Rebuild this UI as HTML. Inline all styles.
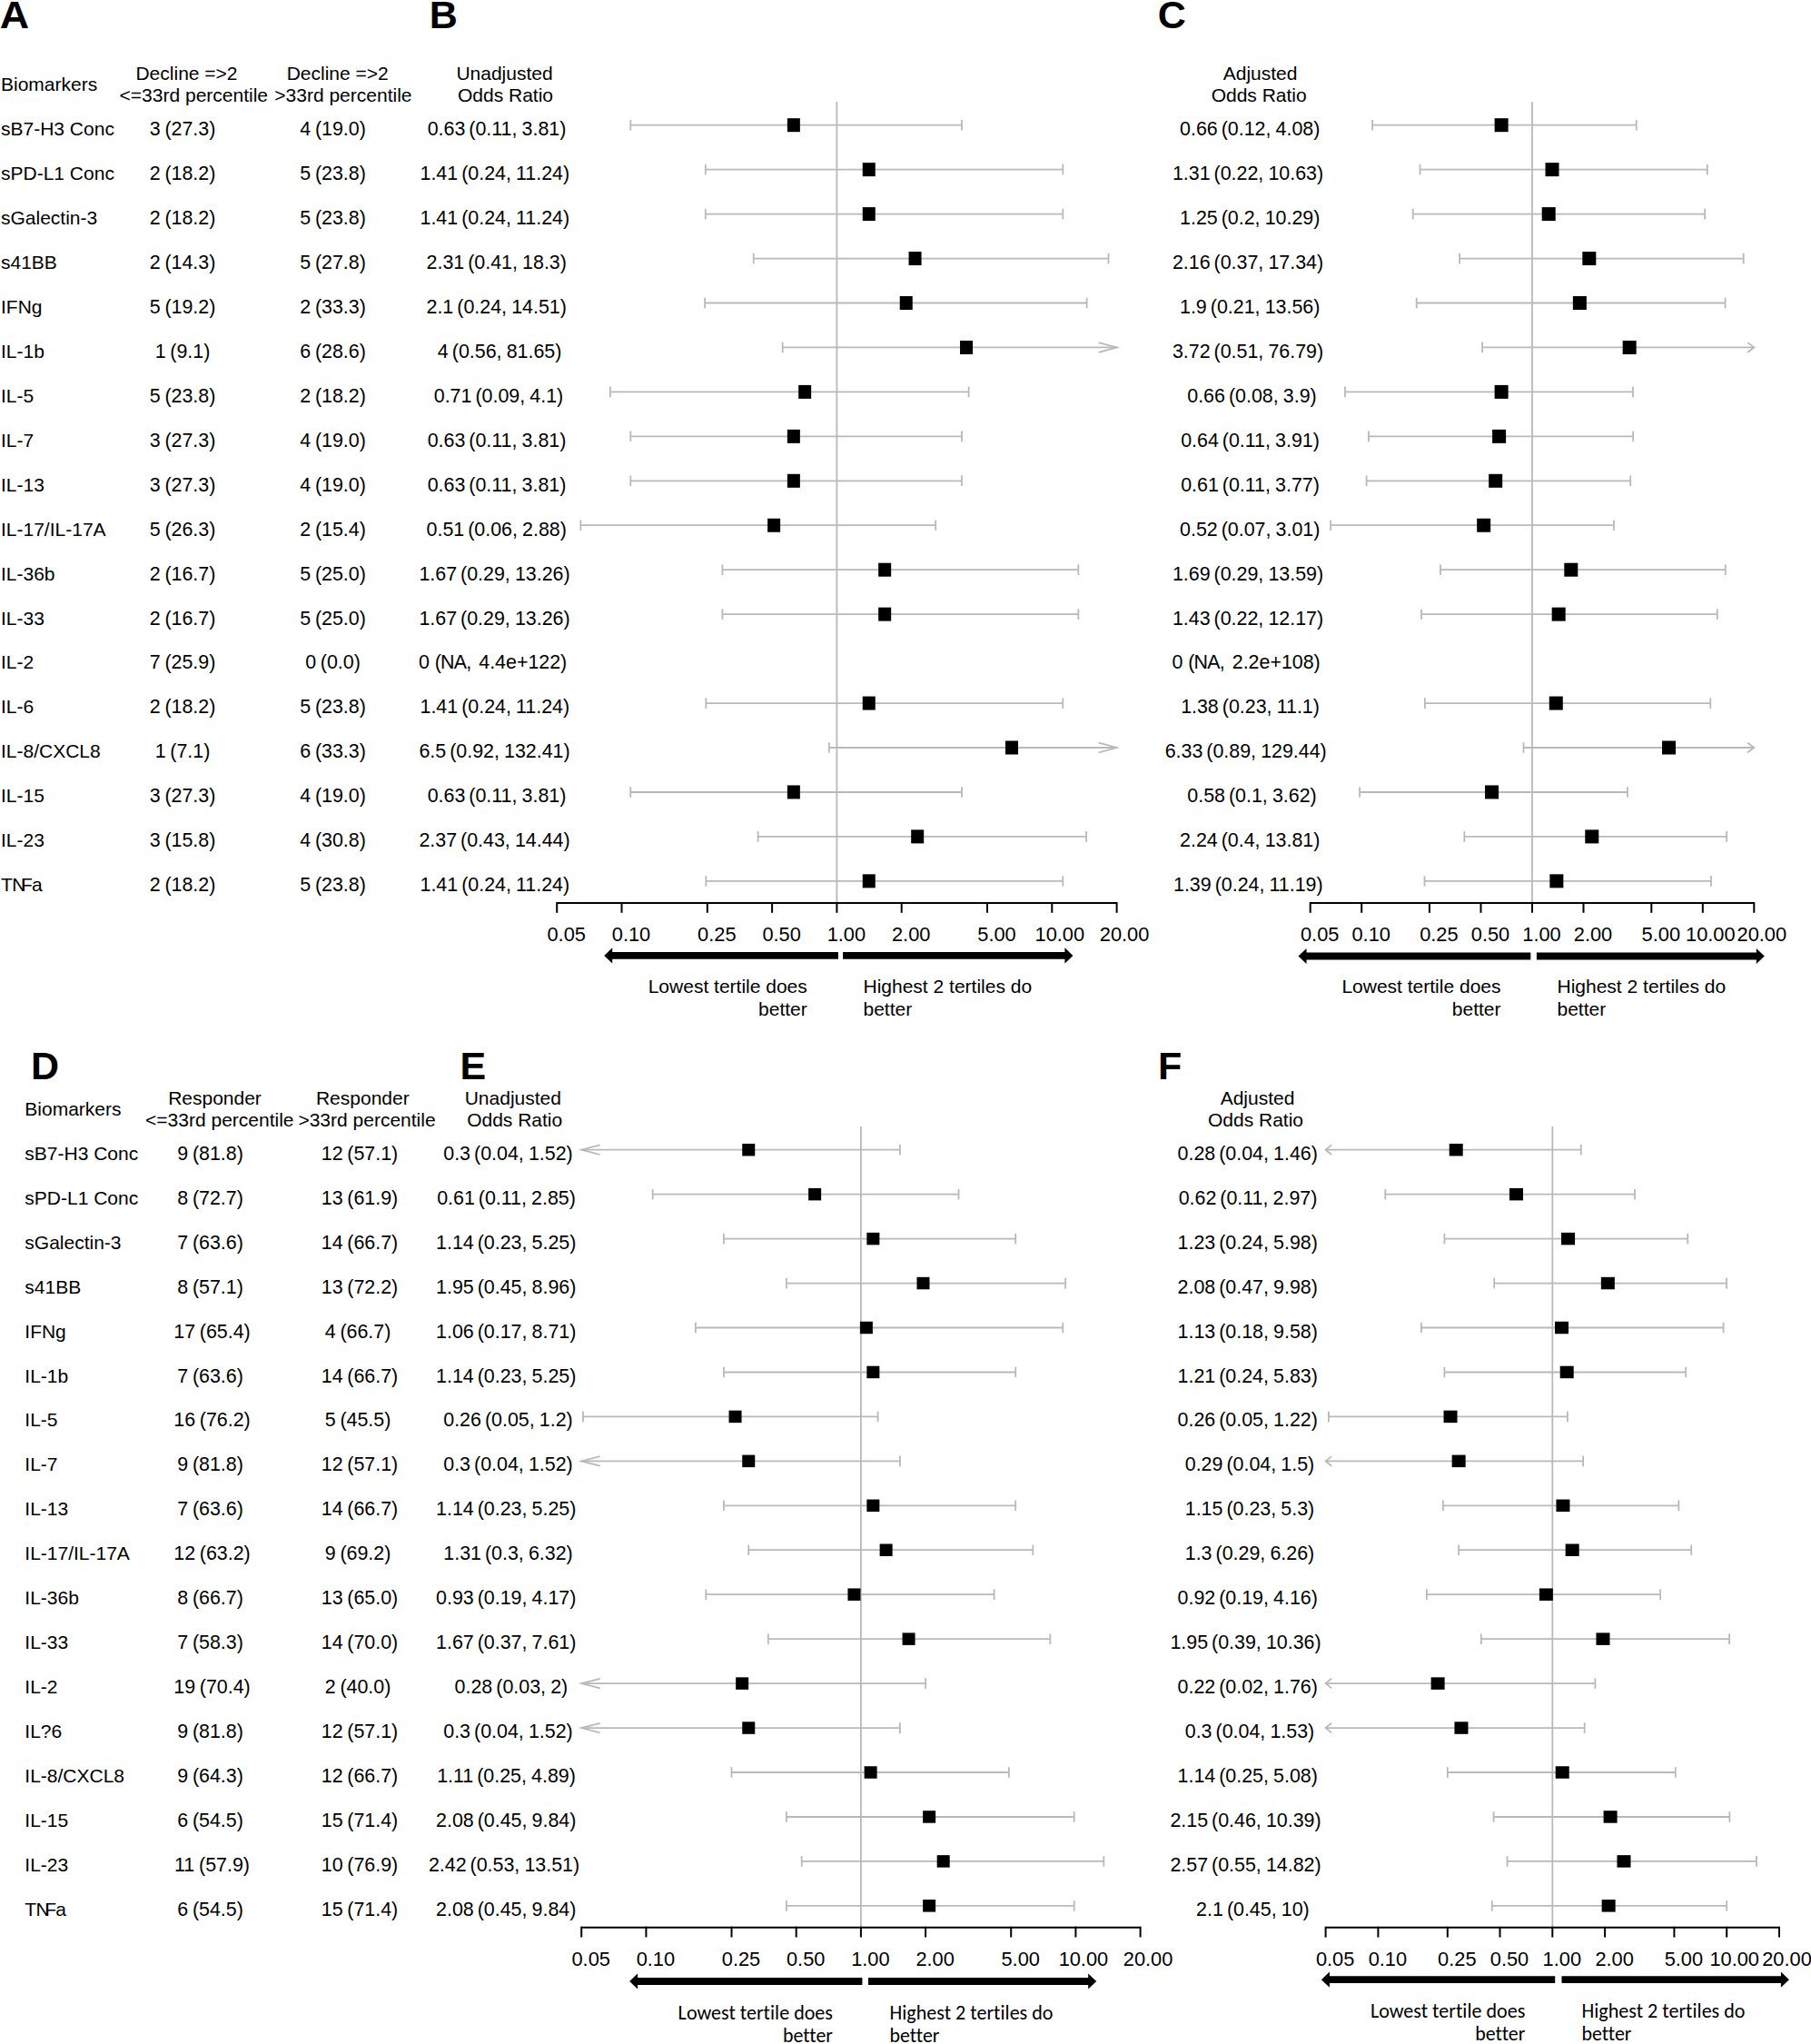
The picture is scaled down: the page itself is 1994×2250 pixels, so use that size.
<!DOCTYPE html>
<html><head><meta charset="utf-8"><title>Forest plots</title>
<style>
html,body{margin:0;padding:0;background:#fff;}
svg{display:block;}
text{fill:#000;font-variant-ligatures:none;font-feature-settings:"liga" 0,"clig" 0;}
</style></head>
<body>
<svg width="1994" height="2250" viewBox="0 0 1994 2250" font-family="Liberation Sans, Arial, sans-serif" font-size="21.0">
<rect x="0" y="0" width="1994" height="2250" fill="#fff"/>
<text x="-0.2" y="30.9" font-weight="bold" font-size="43" textLength="32.4" lengthAdjust="spacingAndGlyphs">A</text>
<text x="472.7" y="30.9" font-weight="bold" font-size="43">B</text>
<text x="1274.7" y="30.9" font-weight="bold" font-size="43">C</text>
<text x="1.0" y="99.9">Biomarkers</text>
<text x="205.5" y="87.8" text-anchor="middle">Decline =&gt;2</text>
<text x="213.3" y="112.4" text-anchor="middle">&lt;=33rd percentile</text>
<text x="371.7" y="87.8" text-anchor="middle">Decline =&gt;2</text>
<text x="377.9" y="112.4" text-anchor="middle">&gt;33rd percentile</text>
<text x="555.5" y="87.8" text-anchor="middle">Unadjusted</text>
<text x="556.5" y="112.4" text-anchor="middle">Odds Ratio</text>
<text x="1387.6" y="87.8" text-anchor="middle">Adjusted</text>
<text x="1386.2" y="112.4" text-anchor="middle">Odds Ratio</text>
<text x="1.0" y="149.0">sB7-H3 Conc</text>
<text x="201.0" y="149.0" text-anchor="middle" font-size="21.4">3<tspan dx="-1.2"> (27.3)</tspan></text>
<text x="366.5" y="149.0" text-anchor="middle" font-size="21.4">4<tspan dx="-1.2"> (19.0)</tspan></text>
<text x="547.0" y="149.0" text-anchor="middle" font-size="21.4">0.63<tspan dx="-1.9"> (0.11,</tspan><tspan dx="-0.8"> 3.81)</tspan></text>
<text x="1376.2" y="149.0" text-anchor="middle" font-size="21.4">0.66<tspan dx="-1.9"> (0.12,</tspan><tspan dx="-0.8"> 4.08)</tspan></text>
<text x="1.0" y="197.9">sPD-L1 Conc</text>
<text x="201.0" y="197.9" text-anchor="middle" font-size="21.4">2<tspan dx="-1.2"> (18.2)</tspan></text>
<text x="366.5" y="197.9" text-anchor="middle" font-size="21.4">5<tspan dx="-1.2"> (23.8)</tspan></text>
<text x="544.8" y="197.9" text-anchor="middle" font-size="21.4">1.41<tspan dx="-1.9"> (0.24,</tspan><tspan dx="-0.8"> 11.24)</tspan></text>
<text x="1374.0" y="197.9" text-anchor="middle" font-size="21.4">1.31<tspan dx="-1.9"> (0.22,</tspan><tspan dx="-0.8"> 10.63)</tspan></text>
<text x="1.0" y="246.9">sGalectin-3</text>
<text x="201.0" y="246.9" text-anchor="middle" font-size="21.4">2<tspan dx="-1.2"> (18.2)</tspan></text>
<text x="366.5" y="246.9" text-anchor="middle" font-size="21.4">5<tspan dx="-1.2"> (23.8)</tspan></text>
<text x="544.8" y="246.9" text-anchor="middle" font-size="21.4">1.41<tspan dx="-1.9"> (0.24,</tspan><tspan dx="-0.8"> 11.24)</tspan></text>
<text x="1376.2" y="246.9" text-anchor="middle" font-size="21.4">1.25<tspan dx="-1.9"> (0.2,</tspan><tspan dx="-0.8"> 10.29)</tspan></text>
<text x="1.0" y="295.9">s41BB</text>
<text x="201.0" y="295.9" text-anchor="middle" font-size="21.4">2<tspan dx="-1.2"> (14.3)</tspan></text>
<text x="366.5" y="295.9" text-anchor="middle" font-size="21.4">5<tspan dx="-1.2"> (27.8)</tspan></text>
<text x="546.7" y="295.9" text-anchor="middle" font-size="21.4">2.31<tspan dx="-1.9"> (0.41,</tspan><tspan dx="-0.8"> 18.3)</tspan></text>
<text x="1374.0" y="295.9" text-anchor="middle" font-size="21.4">2.16<tspan dx="-1.9"> (0.37,</tspan><tspan dx="-0.8"> 17.34)</tspan></text>
<text x="1.0" y="344.8">IFNg</text>
<text x="201.0" y="344.8" text-anchor="middle" font-size="21.4">5<tspan dx="-1.2"> (19.2)</tspan></text>
<text x="366.5" y="344.8" text-anchor="middle" font-size="21.4">2<tspan dx="-1.2"> (33.3)</tspan></text>
<text x="546.7" y="344.8" text-anchor="middle" font-size="21.4">2.1<tspan dx="-1.9"> (0.24,</tspan><tspan dx="-0.8"> 14.51)</tspan></text>
<text x="1376.2" y="344.8" text-anchor="middle" font-size="21.4">1.9<tspan dx="-1.9"> (0.21,</tspan><tspan dx="-0.8"> 13.56)</tspan></text>
<text x="1.0" y="393.8">IL-1b</text>
<text x="201.0" y="393.8" text-anchor="middle" font-size="21.4">1<tspan dx="-1.2"> (9.1)</tspan></text>
<text x="366.5" y="393.8" text-anchor="middle" font-size="21.4">6<tspan dx="-1.2"> (28.6)</tspan></text>
<text x="550.1" y="393.8" text-anchor="middle" font-size="21.4">4<tspan dx="-1.9"> (0.56,</tspan><tspan dx="-0.8"> 81.65)</tspan></text>
<text x="1374.0" y="393.8" text-anchor="middle" font-size="21.4">3.72<tspan dx="-1.9"> (0.51,</tspan><tspan dx="-0.8"> 76.79)</tspan></text>
<text x="1.0" y="442.7">IL-5</text>
<text x="201.0" y="442.7" text-anchor="middle" font-size="21.4">5<tspan dx="-1.2"> (23.8)</tspan></text>
<text x="366.5" y="442.7" text-anchor="middle" font-size="21.4">2<tspan dx="-1.2"> (18.2)</tspan></text>
<text x="549.0" y="442.7" text-anchor="middle" font-size="21.4">0.71<tspan dx="-1.9"> (0.09,</tspan><tspan dx="-0.8"> 4.1)</tspan></text>
<text x="1378.5" y="442.7" text-anchor="middle" font-size="21.4">0.66<tspan dx="-1.9"> (0.08,</tspan><tspan dx="-0.8"> 3.9)</tspan></text>
<text x="1.0" y="491.7">IL-7</text>
<text x="201.0" y="491.7" text-anchor="middle" font-size="21.4">3<tspan dx="-1.2"> (27.3)</tspan></text>
<text x="366.5" y="491.7" text-anchor="middle" font-size="21.4">4<tspan dx="-1.2"> (19.0)</tspan></text>
<text x="547.0" y="491.7" text-anchor="middle" font-size="21.4">0.63<tspan dx="-1.9"> (0.11,</tspan><tspan dx="-0.8"> 3.81)</tspan></text>
<text x="1376.5" y="491.7" text-anchor="middle" font-size="21.4">0.64<tspan dx="-1.9"> (0.11,</tspan><tspan dx="-0.8"> 3.91)</tspan></text>
<text x="1.0" y="540.6">IL-13</text>
<text x="201.0" y="540.6" text-anchor="middle" font-size="21.4">3<tspan dx="-1.2"> (27.3)</tspan></text>
<text x="366.5" y="540.6" text-anchor="middle" font-size="21.4">4<tspan dx="-1.2"> (19.0)</tspan></text>
<text x="547.0" y="540.6" text-anchor="middle" font-size="21.4">0.63<tspan dx="-1.9"> (0.11,</tspan><tspan dx="-0.8"> 3.81)</tspan></text>
<text x="1376.5" y="540.6" text-anchor="middle" font-size="21.4">0.61<tspan dx="-1.9"> (0.11,</tspan><tspan dx="-0.8"> 3.77)</tspan></text>
<text x="1.0" y="589.5">IL-17/IL-17A</text>
<text x="201.0" y="589.5" text-anchor="middle" font-size="21.4">5<tspan dx="-1.2"> (26.3)</tspan></text>
<text x="366.5" y="589.5" text-anchor="middle" font-size="21.4">2<tspan dx="-1.2"> (15.4)</tspan></text>
<text x="546.7" y="589.5" text-anchor="middle" font-size="21.4">0.51<tspan dx="-1.9"> (0.06,</tspan><tspan dx="-0.8"> 2.88)</tspan></text>
<text x="1376.2" y="589.5" text-anchor="middle" font-size="21.4">0.52<tspan dx="-1.9"> (0.07,</tspan><tspan dx="-0.8"> 3.01)</tspan></text>
<text x="1.0" y="638.5">IL-36b</text>
<text x="201.0" y="638.5" text-anchor="middle" font-size="21.4">2<tspan dx="-1.2"> (16.7)</tspan></text>
<text x="366.5" y="638.5" text-anchor="middle" font-size="21.4">5<tspan dx="-1.2"> (25.0)</tspan></text>
<text x="544.5" y="638.5" text-anchor="middle" font-size="21.4">1.67<tspan dx="-1.9"> (0.29,</tspan><tspan dx="-0.8"> 13.26)</tspan></text>
<text x="1374.0" y="638.5" text-anchor="middle" font-size="21.4">1.69<tspan dx="-1.9"> (0.29,</tspan><tspan dx="-0.8"> 13.59)</tspan></text>
<text x="1.0" y="687.5">IL-33</text>
<text x="201.0" y="687.5" text-anchor="middle" font-size="21.4">2<tspan dx="-1.2"> (16.7)</tspan></text>
<text x="366.5" y="687.5" text-anchor="middle" font-size="21.4">5<tspan dx="-1.2"> (25.0)</tspan></text>
<text x="544.5" y="687.5" text-anchor="middle" font-size="21.4">1.67<tspan dx="-1.9"> (0.29,</tspan><tspan dx="-0.8"> 13.26)</tspan></text>
<text x="1374.0" y="687.5" text-anchor="middle" font-size="21.4">1.43<tspan dx="-1.9"> (0.22,</tspan><tspan dx="-0.8"> 12.17)</tspan></text>
<text x="1.0" y="736.4">IL-2</text>
<text x="201.0" y="736.4" text-anchor="middle" font-size="21.4">7<tspan dx="-1.2"> (25.9)</tspan></text>
<text x="366.5" y="736.4" text-anchor="middle" font-size="21.4">0<tspan dx="-1.2"> (0.0)</tspan></text>
<text x="542.6" y="736.4" text-anchor="middle" font-size="21.4">0 <tspan letter-spacing="-0.8">(NA,</tspan><tspan dx="-3">  4.4e+122)</tspan></text>
<text x="1372.1" y="736.4" text-anchor="middle" font-size="21.4">0 <tspan letter-spacing="-0.8">(NA,</tspan><tspan dx="-3">  2.2e+108)</tspan></text>
<text x="1.0" y="785.4">IL-6</text>
<text x="201.0" y="785.4" text-anchor="middle" font-size="21.4">2<tspan dx="-1.2"> (18.2)</tspan></text>
<text x="366.5" y="785.4" text-anchor="middle" font-size="21.4">5<tspan dx="-1.2"> (23.8)</tspan></text>
<text x="544.8" y="785.4" text-anchor="middle" font-size="21.4">1.41<tspan dx="-1.9"> (0.24,</tspan><tspan dx="-0.8"> 11.24)</tspan></text>
<text x="1376.5" y="785.4" text-anchor="middle" font-size="21.4">1.38<tspan dx="-1.9"> (0.23,</tspan><tspan dx="-0.8"> 11.1)</tspan></text>
<text x="1.0" y="834.3">IL-8/CXCL8</text>
<text x="201.0" y="834.3" text-anchor="middle" font-size="21.4">1<tspan dx="-1.2"> (7.1)</tspan></text>
<text x="366.5" y="834.3" text-anchor="middle" font-size="21.4">6<tspan dx="-1.2"> (33.3)</tspan></text>
<text x="544.5" y="834.3" text-anchor="middle" font-size="21.4">6.5<tspan dx="-1.9"> (0.92,</tspan><tspan dx="-0.8"> 132.41)</tspan></text>
<text x="1371.7" y="834.3" text-anchor="middle" font-size="21.4">6.33<tspan dx="-1.9"> (0.89,</tspan><tspan dx="-0.8"> 129.44)</tspan></text>
<text x="1.0" y="883.2">IL-15</text>
<text x="201.0" y="883.2" text-anchor="middle" font-size="21.4">3<tspan dx="-1.2"> (27.3)</tspan></text>
<text x="366.5" y="883.2" text-anchor="middle" font-size="21.4">4<tspan dx="-1.2"> (19.0)</tspan></text>
<text x="547.0" y="883.2" text-anchor="middle" font-size="21.4">0.63<tspan dx="-1.9"> (0.11,</tspan><tspan dx="-0.8"> 3.81)</tspan></text>
<text x="1378.5" y="883.2" text-anchor="middle" font-size="21.4">0.58<tspan dx="-1.9"> (0.1,</tspan><tspan dx="-0.8"> 3.62)</tspan></text>
<text x="1.0" y="932.2">IL-23</text>
<text x="201.0" y="932.2" text-anchor="middle" font-size="21.4">3<tspan dx="-1.2"> (15.8)</tspan></text>
<text x="366.5" y="932.2" text-anchor="middle" font-size="21.4">4<tspan dx="-1.2"> (30.8)</tspan></text>
<text x="544.5" y="932.2" text-anchor="middle" font-size="21.4">2.37<tspan dx="-1.9"> (0.43,</tspan><tspan dx="-0.8"> 14.44)</tspan></text>
<text x="1376.2" y="932.2" text-anchor="middle" font-size="21.4">2.24<tspan dx="-1.9"> (0.4,</tspan><tspan dx="-0.8"> 13.81)</tspan></text>
<text x="1.0" y="981.2">T<tspan dx="-0.6">N</tspan><tspan dx="-5.4">F</tspan><tspan dx="-0.9">a</tspan></text>
<text x="201.0" y="981.2" text-anchor="middle" font-size="21.4">2<tspan dx="-1.2"> (18.2)</tspan></text>
<text x="366.5" y="981.2" text-anchor="middle" font-size="21.4">5<tspan dx="-1.2"> (23.8)</tspan></text>
<text x="544.8" y="981.2" text-anchor="middle" font-size="21.4">1.41<tspan dx="-1.9"> (0.24,</tspan><tspan dx="-0.8"> 11.24)</tspan></text>
<text x="1374.3" y="981.2" text-anchor="middle" font-size="21.4">1.39<tspan dx="-1.9"> (0.24,</tspan><tspan dx="-0.8"> 11.19)</tspan></text>
<line x1="921.4" y1="112.0" x2="921.4" y2="994.0" stroke="#b9b9b9" stroke-width="1.8"/>
<line x1="694.3" y1="137.7" x2="1059.0" y2="137.7" stroke="#b9b9b9" stroke-width="1.8"/>
<line x1="694.3" y1="131.9" x2="694.3" y2="143.5" stroke="#b9b9b9" stroke-width="1.8"/>
<line x1="1059.0" y1="131.9" x2="1059.0" y2="143.5" stroke="#b9b9b9" stroke-width="1.8"/>
<rect x="866.86" y="130.20" width="14" height="15" fill="#000"/>
<line x1="776.8" y1="186.6" x2="1170.3" y2="186.6" stroke="#b9b9b9" stroke-width="1.8"/>
<line x1="776.8" y1="180.8" x2="776.8" y2="192.4" stroke="#b9b9b9" stroke-width="1.8"/>
<line x1="1170.3" y1="180.8" x2="1170.3" y2="192.4" stroke="#b9b9b9" stroke-width="1.8"/>
<rect x="949.75" y="179.15" width="14" height="15" fill="#000"/>
<line x1="776.8" y1="235.6" x2="1170.3" y2="235.6" stroke="#b9b9b9" stroke-width="1.8"/>
<line x1="776.8" y1="229.8" x2="776.8" y2="241.4" stroke="#b9b9b9" stroke-width="1.8"/>
<line x1="1170.3" y1="229.8" x2="1170.3" y2="241.4" stroke="#b9b9b9" stroke-width="1.8"/>
<rect x="949.75" y="228.10" width="14" height="15" fill="#000"/>
<line x1="829.7" y1="284.6" x2="1220.5" y2="284.6" stroke="#b9b9b9" stroke-width="1.8"/>
<line x1="829.7" y1="278.8" x2="829.7" y2="290.4" stroke="#b9b9b9" stroke-width="1.8"/>
<line x1="1220.5" y1="278.8" x2="1220.5" y2="290.4" stroke="#b9b9b9" stroke-width="1.8"/>
<rect x="1000.54" y="277.05" width="14" height="15" fill="#000"/>
<line x1="776.1" y1="333.5" x2="1196.6" y2="333.5" stroke="#b9b9b9" stroke-width="1.8"/>
<line x1="776.1" y1="327.7" x2="776.1" y2="339.3" stroke="#b9b9b9" stroke-width="1.8"/>
<line x1="1196.6" y1="327.7" x2="1196.6" y2="339.3" stroke="#b9b9b9" stroke-width="1.8"/>
<rect x="990.73" y="326.00" width="14" height="15" fill="#000"/>
<line x1="861.7" y1="382.4" x2="1229.7" y2="382.4" stroke="#b9b9b9" stroke-width="1.8"/>
<line x1="861.7" y1="376.6" x2="861.7" y2="388.2" stroke="#b9b9b9" stroke-width="1.8"/>
<polyline points="1209.7,377.1 1229.7,382.4 1209.7,387.8" fill="none" stroke="#b9b9b9" stroke-width="1.8"/>
<rect x="1057.03" y="374.95" width="14" height="15" fill="#000"/>
<line x1="671.9" y1="431.4" x2="1066.6" y2="431.4" stroke="#b9b9b9" stroke-width="1.8"/>
<line x1="671.9" y1="425.6" x2="671.9" y2="437.2" stroke="#b9b9b9" stroke-width="1.8"/>
<line x1="1066.6" y1="425.6" x2="1066.6" y2="437.2" stroke="#b9b9b9" stroke-width="1.8"/>
<rect x="879.16" y="423.90" width="14" height="15" fill="#000"/>
<line x1="694.3" y1="480.4" x2="1059.0" y2="480.4" stroke="#b9b9b9" stroke-width="1.8"/>
<line x1="694.3" y1="474.6" x2="694.3" y2="486.2" stroke="#b9b9b9" stroke-width="1.8"/>
<line x1="1059.0" y1="474.6" x2="1059.0" y2="486.2" stroke="#b9b9b9" stroke-width="1.8"/>
<rect x="866.86" y="472.85" width="14" height="15" fill="#000"/>
<line x1="694.3" y1="529.3" x2="1059.0" y2="529.3" stroke="#b9b9b9" stroke-width="1.8"/>
<line x1="694.3" y1="523.5" x2="694.3" y2="535.1" stroke="#b9b9b9" stroke-width="1.8"/>
<line x1="1059.0" y1="523.5" x2="1059.0" y2="535.1" stroke="#b9b9b9" stroke-width="1.8"/>
<rect x="866.86" y="521.80" width="14" height="15" fill="#000"/>
<line x1="639.3" y1="578.2" x2="1030.2" y2="578.2" stroke="#b9b9b9" stroke-width="1.8"/>
<line x1="639.3" y1="572.5" x2="639.3" y2="584.0" stroke="#b9b9b9" stroke-width="1.8"/>
<line x1="1030.2" y1="572.5" x2="1030.2" y2="584.0" stroke="#b9b9b9" stroke-width="1.8"/>
<rect x="845.12" y="570.75" width="14" height="15" fill="#000"/>
<line x1="795.4" y1="627.2" x2="1187.3" y2="627.2" stroke="#b9b9b9" stroke-width="1.8"/>
<line x1="795.4" y1="621.4" x2="795.4" y2="633.0" stroke="#b9b9b9" stroke-width="1.8"/>
<line x1="1187.3" y1="621.4" x2="1187.3" y2="633.0" stroke="#b9b9b9" stroke-width="1.8"/>
<rect x="967.16" y="619.70" width="14" height="15" fill="#000"/>
<line x1="795.4" y1="676.2" x2="1187.3" y2="676.2" stroke="#b9b9b9" stroke-width="1.8"/>
<line x1="795.4" y1="670.4" x2="795.4" y2="682.0" stroke="#b9b9b9" stroke-width="1.8"/>
<line x1="1187.3" y1="670.4" x2="1187.3" y2="682.0" stroke="#b9b9b9" stroke-width="1.8"/>
<rect x="967.16" y="668.65" width="14" height="15" fill="#000"/>
<line x1="777.3" y1="774.1" x2="1170.3" y2="774.1" stroke="#b9b9b9" stroke-width="1.8"/>
<line x1="777.3" y1="768.3" x2="777.3" y2="779.9" stroke="#b9b9b9" stroke-width="1.8"/>
<line x1="1170.3" y1="768.3" x2="1170.3" y2="779.9" stroke="#b9b9b9" stroke-width="1.8"/>
<rect x="949.75" y="766.55" width="14" height="15" fill="#000"/>
<line x1="912.8" y1="823.0" x2="1229.7" y2="823.0" stroke="#b9b9b9" stroke-width="1.8"/>
<line x1="912.8" y1="817.2" x2="912.8" y2="828.8" stroke="#b9b9b9" stroke-width="1.8"/>
<polyline points="1209.7,817.7 1229.7,823.0 1209.7,828.3" fill="none" stroke="#b9b9b9" stroke-width="1.8"/>
<rect x="1106.98" y="815.50" width="14" height="15" fill="#000"/>
<line x1="694.3" y1="872.0" x2="1059.0" y2="872.0" stroke="#b9b9b9" stroke-width="1.8"/>
<line x1="694.3" y1="866.2" x2="694.3" y2="877.8" stroke="#b9b9b9" stroke-width="1.8"/>
<line x1="1059.0" y1="866.2" x2="1059.0" y2="877.8" stroke="#b9b9b9" stroke-width="1.8"/>
<rect x="866.86" y="864.45" width="14" height="15" fill="#000"/>
<line x1="834.6" y1="920.9" x2="1196.1" y2="920.9" stroke="#b9b9b9" stroke-width="1.8"/>
<line x1="834.6" y1="915.1" x2="834.6" y2="926.7" stroke="#b9b9b9" stroke-width="1.8"/>
<line x1="1196.1" y1="915.1" x2="1196.1" y2="926.7" stroke="#b9b9b9" stroke-width="1.8"/>
<rect x="1003.18" y="913.40" width="14" height="15" fill="#000"/>
<line x1="777.3" y1="969.9" x2="1170.3" y2="969.9" stroke="#b9b9b9" stroke-width="1.8"/>
<line x1="777.3" y1="964.1" x2="777.3" y2="975.7" stroke="#b9b9b9" stroke-width="1.8"/>
<line x1="1170.3" y1="964.1" x2="1170.3" y2="975.7" stroke="#b9b9b9" stroke-width="1.8"/>
<rect x="949.75" y="962.35" width="14" height="15" fill="#000"/>
<line x1="613.2" y1="994.0" x2="1229.7" y2="994.0" stroke="#000" stroke-width="2"/>
<line x1="613.2" y1="993.0" x2="613.2" y2="1004.8" stroke="#000" stroke-width="2"/>
<text x="623.7" y="1036.2" text-anchor="middle" font-size="21.8">0.05</text>
<line x1="684.5" y1="993.0" x2="684.5" y2="1004.8" stroke="#000" stroke-width="2"/>
<text x="695.0" y="1036.2" text-anchor="middle" font-size="21.8">0.10</text>
<line x1="778.8" y1="993.0" x2="778.8" y2="1004.8" stroke="#000" stroke-width="2"/>
<text x="789.3" y="1036.2" text-anchor="middle" font-size="21.8">0.25</text>
<line x1="850.1" y1="993.0" x2="850.1" y2="1004.8" stroke="#000" stroke-width="2"/>
<text x="860.6" y="1036.2" text-anchor="middle" font-size="21.8">0.50</text>
<line x1="921.4" y1="993.0" x2="921.4" y2="1004.8" stroke="#000" stroke-width="2"/>
<text x="931.9" y="1036.2" text-anchor="middle" font-size="21.8">1.00</text>
<line x1="992.7" y1="993.0" x2="992.7" y2="1004.8" stroke="#000" stroke-width="2"/>
<text x="1003.2" y="1036.2" text-anchor="middle" font-size="21.8">2.00</text>
<line x1="1087.0" y1="993.0" x2="1087.0" y2="1004.8" stroke="#000" stroke-width="2"/>
<text x="1097.5" y="1036.2" text-anchor="middle" font-size="21.8">5.00</text>
<line x1="1158.3" y1="993.0" x2="1158.3" y2="1004.8" stroke="#000" stroke-width="2"/>
<text x="1166.8" y="1036.2" text-anchor="middle" font-size="21.8">10.00</text>
<line x1="1229.6" y1="993.0" x2="1229.6" y2="1004.8" stroke="#000" stroke-width="2"/>
<text x="1238.1" y="1036.2" text-anchor="middle" font-size="21.8">20.00</text>
<path d="M665.2,1051.9 L674.2,1043.3 L674.2,1048.0 L922.9,1048.0 L922.9,1055.8 L674.2,1055.8 L674.2,1060.5 Z" fill="#000"/>
<path d="M1181.4,1051.9 L1172.4,1043.3 L1172.4,1048.0 L928.1,1048.0 L928.1,1055.8 L1172.4,1055.8 L1172.4,1060.5 Z" fill="#000"/>
<text x="888.8" y="1093.4" text-anchor="end">Lowest tertile does</text>
<text x="888.8" y="1118.2" text-anchor="end">better</text>
<text x="950.5" y="1093.4">Highest 2 tertiles do</text>
<text x="950.5" y="1118.2">better</text>
<line x1="1687.0" y1="112.0" x2="1687.0" y2="994.0" stroke="#b9b9b9" stroke-width="1.8"/>
<line x1="1511.1" y1="137.7" x2="1801.7" y2="137.7" stroke="#b9b9b9" stroke-width="1.8"/>
<line x1="1511.1" y1="131.9" x2="1511.1" y2="143.5" stroke="#b9b9b9" stroke-width="1.8"/>
<line x1="1801.7" y1="131.9" x2="1801.7" y2="143.5" stroke="#b9b9b9" stroke-width="1.8"/>
<rect x="1645.61" y="130.20" width="15" height="15" fill="#000"/>
<line x1="1563.5" y1="186.6" x2="1879.8" y2="186.6" stroke="#b9b9b9" stroke-width="1.8"/>
<line x1="1563.5" y1="180.8" x2="1563.5" y2="192.4" stroke="#b9b9b9" stroke-width="1.8"/>
<line x1="1879.8" y1="180.8" x2="1879.8" y2="192.4" stroke="#b9b9b9" stroke-width="1.8"/>
<rect x="1701.52" y="179.15" width="15" height="15" fill="#000"/>
<line x1="1555.7" y1="235.6" x2="1877.1" y2="235.6" stroke="#b9b9b9" stroke-width="1.8"/>
<line x1="1555.7" y1="229.8" x2="1555.7" y2="241.4" stroke="#b9b9b9" stroke-width="1.8"/>
<line x1="1877.1" y1="229.8" x2="1877.1" y2="241.4" stroke="#b9b9b9" stroke-width="1.8"/>
<rect x="1697.70" y="228.10" width="15" height="15" fill="#000"/>
<line x1="1607.1" y1="284.6" x2="1919.7" y2="284.6" stroke="#b9b9b9" stroke-width="1.8"/>
<line x1="1607.1" y1="278.8" x2="1607.1" y2="290.4" stroke="#b9b9b9" stroke-width="1.8"/>
<line x1="1919.7" y1="278.8" x2="1919.7" y2="290.4" stroke="#b9b9b9" stroke-width="1.8"/>
<rect x="1742.31" y="277.05" width="15" height="15" fill="#000"/>
<line x1="1559.7" y1="333.5" x2="1899.6" y2="333.5" stroke="#b9b9b9" stroke-width="1.8"/>
<line x1="1559.7" y1="327.7" x2="1559.7" y2="339.3" stroke="#b9b9b9" stroke-width="1.8"/>
<line x1="1899.6" y1="327.7" x2="1899.6" y2="339.3" stroke="#b9b9b9" stroke-width="1.8"/>
<rect x="1731.85" y="326.00" width="15" height="15" fill="#000"/>
<line x1="1632.1" y1="382.4" x2="1931.3" y2="382.4" stroke="#b9b9b9" stroke-width="1.8"/>
<line x1="1632.1" y1="376.6" x2="1632.1" y2="388.2" stroke="#b9b9b9" stroke-width="1.8"/>
<polyline points="1924.3,377.1 1931.3,382.4 1924.3,387.8" fill="none" stroke="#b9b9b9" stroke-width="1.8"/>
<rect x="1786.65" y="374.95" width="15" height="15" fill="#000"/>
<line x1="1481.0" y1="431.4" x2="1798.0" y2="431.4" stroke="#b9b9b9" stroke-width="1.8"/>
<line x1="1481.0" y1="425.6" x2="1481.0" y2="437.2" stroke="#b9b9b9" stroke-width="1.8"/>
<line x1="1798.0" y1="425.6" x2="1798.0" y2="437.2" stroke="#b9b9b9" stroke-width="1.8"/>
<rect x="1645.61" y="423.90" width="15" height="15" fill="#000"/>
<line x1="1507.0" y1="480.4" x2="1798.2" y2="480.4" stroke="#b9b9b9" stroke-width="1.8"/>
<line x1="1507.0" y1="474.6" x2="1507.0" y2="486.2" stroke="#b9b9b9" stroke-width="1.8"/>
<line x1="1798.2" y1="474.6" x2="1798.2" y2="486.2" stroke="#b9b9b9" stroke-width="1.8"/>
<rect x="1643.10" y="472.85" width="15" height="15" fill="#000"/>
<line x1="1504.6" y1="529.3" x2="1795.2" y2="529.3" stroke="#b9b9b9" stroke-width="1.8"/>
<line x1="1504.6" y1="523.5" x2="1504.6" y2="535.1" stroke="#b9b9b9" stroke-width="1.8"/>
<line x1="1795.2" y1="523.5" x2="1795.2" y2="535.1" stroke="#b9b9b9" stroke-width="1.8"/>
<rect x="1639.18" y="521.80" width="15" height="15" fill="#000"/>
<line x1="1465.1" y1="578.2" x2="1776.9" y2="578.2" stroke="#b9b9b9" stroke-width="1.8"/>
<line x1="1465.1" y1="572.5" x2="1465.1" y2="584.0" stroke="#b9b9b9" stroke-width="1.8"/>
<line x1="1776.9" y1="572.5" x2="1776.9" y2="584.0" stroke="#b9b9b9" stroke-width="1.8"/>
<rect x="1626.17" y="570.75" width="15" height="15" fill="#000"/>
<line x1="1586.0" y1="627.2" x2="1899.8" y2="627.2" stroke="#b9b9b9" stroke-width="1.8"/>
<line x1="1586.0" y1="621.4" x2="1586.0" y2="633.0" stroke="#b9b9b9" stroke-width="1.8"/>
<line x1="1899.8" y1="621.4" x2="1899.8" y2="633.0" stroke="#b9b9b9" stroke-width="1.8"/>
<rect x="1722.30" y="619.70" width="15" height="15" fill="#000"/>
<line x1="1565.0" y1="676.2" x2="1890.8" y2="676.2" stroke="#b9b9b9" stroke-width="1.8"/>
<line x1="1565.0" y1="670.4" x2="1565.0" y2="682.0" stroke="#b9b9b9" stroke-width="1.8"/>
<line x1="1890.8" y1="670.4" x2="1890.8" y2="682.0" stroke="#b9b9b9" stroke-width="1.8"/>
<rect x="1708.67" y="668.65" width="15" height="15" fill="#000"/>
<line x1="1568.9" y1="774.1" x2="1883.3" y2="774.1" stroke="#b9b9b9" stroke-width="1.8"/>
<line x1="1568.9" y1="768.3" x2="1568.9" y2="779.9" stroke="#b9b9b9" stroke-width="1.8"/>
<line x1="1883.3" y1="768.3" x2="1883.3" y2="779.9" stroke="#b9b9b9" stroke-width="1.8"/>
<rect x="1705.77" y="766.55" width="15" height="15" fill="#000"/>
<line x1="1677.5" y1="823.0" x2="1931.3" y2="823.0" stroke="#b9b9b9" stroke-width="1.8"/>
<line x1="1677.5" y1="817.2" x2="1677.5" y2="828.8" stroke="#b9b9b9" stroke-width="1.8"/>
<polyline points="1924.3,817.7 1931.3,823.0 1924.3,828.3" fill="none" stroke="#b9b9b9" stroke-width="1.8"/>
<rect x="1830.00" y="815.50" width="15" height="15" fill="#000"/>
<line x1="1497.1" y1="872.0" x2="1791.9" y2="872.0" stroke="#b9b9b9" stroke-width="1.8"/>
<line x1="1497.1" y1="866.2" x2="1497.1" y2="877.8" stroke="#b9b9b9" stroke-width="1.8"/>
<line x1="1791.9" y1="866.2" x2="1791.9" y2="877.8" stroke="#b9b9b9" stroke-width="1.8"/>
<rect x="1635.07" y="864.45" width="15" height="15" fill="#000"/>
<line x1="1612.3" y1="920.9" x2="1901.1" y2="920.9" stroke="#b9b9b9" stroke-width="1.8"/>
<line x1="1612.3" y1="915.1" x2="1612.3" y2="926.7" stroke="#b9b9b9" stroke-width="1.8"/>
<line x1="1901.1" y1="915.1" x2="1901.1" y2="926.7" stroke="#b9b9b9" stroke-width="1.8"/>
<rect x="1745.28" y="913.40" width="15" height="15" fill="#000"/>
<line x1="1568.5" y1="969.9" x2="1884.0" y2="969.9" stroke="#b9b9b9" stroke-width="1.8"/>
<line x1="1568.5" y1="964.1" x2="1568.5" y2="975.7" stroke="#b9b9b9" stroke-width="1.8"/>
<line x1="1884.0" y1="964.1" x2="1884.0" y2="975.7" stroke="#b9b9b9" stroke-width="1.8"/>
<rect x="1706.36" y="962.35" width="15" height="15" fill="#000"/>
<line x1="1442.6" y1="994.0" x2="1931.3" y2="994.0" stroke="#000" stroke-width="2"/>
<line x1="1442.7" y1="993.0" x2="1442.7" y2="1004.8" stroke="#000" stroke-width="2"/>
<text x="1453.2" y="1036.2" text-anchor="middle" font-size="21.8">0.05</text>
<line x1="1499.2" y1="993.0" x2="1499.2" y2="1004.8" stroke="#000" stroke-width="2"/>
<text x="1509.7" y="1036.2" text-anchor="middle" font-size="21.8">0.10</text>
<line x1="1573.9" y1="993.0" x2="1573.9" y2="1004.8" stroke="#000" stroke-width="2"/>
<text x="1584.4" y="1036.2" text-anchor="middle" font-size="21.8">0.25</text>
<line x1="1630.5" y1="993.0" x2="1630.5" y2="1004.8" stroke="#000" stroke-width="2"/>
<text x="1641.0" y="1036.2" text-anchor="middle" font-size="21.8">0.50</text>
<line x1="1687.0" y1="993.0" x2="1687.0" y2="1004.8" stroke="#000" stroke-width="2"/>
<text x="1697.5" y="1036.2" text-anchor="middle" font-size="21.8">1.00</text>
<line x1="1743.5" y1="993.0" x2="1743.5" y2="1004.8" stroke="#000" stroke-width="2"/>
<text x="1754.0" y="1036.2" text-anchor="middle" font-size="21.8">2.00</text>
<line x1="1818.3" y1="993.0" x2="1818.3" y2="1004.8" stroke="#000" stroke-width="2"/>
<text x="1828.8" y="1036.2" text-anchor="middle" font-size="21.8">5.00</text>
<line x1="1874.8" y1="993.0" x2="1874.8" y2="1004.8" stroke="#000" stroke-width="2"/>
<text x="1883.3" y="1036.2" text-anchor="middle" font-size="21.8">10.00</text>
<line x1="1931.3" y1="993.0" x2="1931.3" y2="1004.8" stroke="#000" stroke-width="2"/>
<text x="1939.8" y="1036.2" text-anchor="middle" font-size="21.8">20.00</text>
<path d="M1429.5,1052.5 L1438.5,1043.9 L1438.5,1048.6 L1685.3,1048.6 L1685.3,1056.4 L1438.5,1056.4 L1438.5,1061.1 Z" fill="#000"/>
<path d="M1942.8,1052.5 L1933.8,1043.9 L1933.8,1048.6 L1691.9,1048.6 L1691.9,1056.4 L1933.8,1056.4 L1933.8,1061.1 Z" fill="#000"/>
<text x="1652.5" y="1093.0" text-anchor="end">Lowest tertile does</text>
<text x="1652.5" y="1117.8" text-anchor="end">better</text>
<text x="1714.5" y="1093.0">Highest 2 tertiles do</text>
<text x="1714.5" y="1117.8">better</text>
<text x="34.0" y="1187.5" font-weight="bold" font-size="43">D</text>
<text x="506.5" y="1187.5" font-weight="bold" font-size="43">E</text>
<text x="1275.0" y="1187.5" font-weight="bold" font-size="43">F</text>
<text x="27.3" y="1227.6">Biomarkers</text>
<text x="236.5" y="1215.5" text-anchor="middle">Responder</text>
<text x="241.8" y="1240.1" text-anchor="middle">&lt;=33rd percentile</text>
<text x="399.3" y="1215.5" text-anchor="middle">Responder</text>
<text x="404.0" y="1240.1" text-anchor="middle">&gt;33rd percentile</text>
<text x="564.8" y="1215.5" text-anchor="middle">Unadjusted</text>
<text x="566.7" y="1240.1" text-anchor="middle">Odds Ratio</text>
<text x="1384.5" y="1215.5" text-anchor="middle">Adjusted</text>
<text x="1382.5" y="1240.1" text-anchor="middle">Odds Ratio</text>
<text x="27.3" y="1276.7">sB7-H3 Conc</text>
<text x="231.5" y="1276.7" text-anchor="middle" font-size="21.4">9<tspan dx="-1.2"> (81.8)</tspan></text>
<text x="396.0" y="1276.7" text-anchor="middle" font-size="21.4">12<tspan dx="-1.2"> (57.1)</tspan></text>
<text x="559.5" y="1276.7" text-anchor="middle" font-size="21.4">0.3<tspan dx="-1.9"> (0.04,</tspan><tspan dx="-0.8"> 1.52)</tspan></text>
<text x="1373.7" y="1276.7" text-anchor="middle" font-size="21.4">0.28<tspan dx="-1.9"> (0.04,</tspan><tspan dx="-0.8"> 1.46)</tspan></text>
<text x="27.3" y="1325.7">sPD-L1 Conc</text>
<text x="231.5" y="1325.7" text-anchor="middle" font-size="21.4">8<tspan dx="-1.2"> (72.7)</tspan></text>
<text x="396.0" y="1325.7" text-anchor="middle" font-size="21.4">13<tspan dx="-1.2"> (61.9)</tspan></text>
<text x="557.5" y="1325.7" text-anchor="middle" font-size="21.4">0.61<tspan dx="-1.9"> (0.11,</tspan><tspan dx="-0.8"> 2.85)</tspan></text>
<text x="1374.0" y="1325.7" text-anchor="middle" font-size="21.4">0.62<tspan dx="-1.9"> (0.11,</tspan><tspan dx="-0.8"> 2.97)</tspan></text>
<text x="27.3" y="1374.6">sGalectin-3</text>
<text x="231.5" y="1374.6" text-anchor="middle" font-size="21.4">7<tspan dx="-1.2"> (63.6)</tspan></text>
<text x="396.0" y="1374.6" text-anchor="middle" font-size="21.4">14<tspan dx="-1.2"> (66.7)</tspan></text>
<text x="557.2" y="1374.6" text-anchor="middle" font-size="21.4">1.14<tspan dx="-1.9"> (0.23,</tspan><tspan dx="-0.8"> 5.25)</tspan></text>
<text x="1373.7" y="1374.6" text-anchor="middle" font-size="21.4">1.23<tspan dx="-1.9"> (0.24,</tspan><tspan dx="-0.8"> 5.98)</tspan></text>
<text x="27.3" y="1423.6">s41BB</text>
<text x="231.5" y="1423.6" text-anchor="middle" font-size="21.4">8<tspan dx="-1.2"> (57.1)</tspan></text>
<text x="396.0" y="1423.6" text-anchor="middle" font-size="21.4">13<tspan dx="-1.2"> (72.2)</tspan></text>
<text x="557.2" y="1423.6" text-anchor="middle" font-size="21.4">1.95<tspan dx="-1.9"> (0.45,</tspan><tspan dx="-0.8"> 8.96)</tspan></text>
<text x="1373.7" y="1423.6" text-anchor="middle" font-size="21.4">2.08<tspan dx="-1.9"> (0.47,</tspan><tspan dx="-0.8"> 9.98)</tspan></text>
<text x="27.3" y="1472.5">IFNg</text>
<text x="233.5" y="1472.5" text-anchor="middle" font-size="21.4">17<tspan dx="-1.2"> (65.4)</tspan></text>
<text x="394.0" y="1472.5" text-anchor="middle" font-size="21.4">4<tspan dx="-1.2"> (66.7)</tspan></text>
<text x="557.2" y="1472.5" text-anchor="middle" font-size="21.4">1.06<tspan dx="-1.9"> (0.17,</tspan><tspan dx="-0.8"> 8.71)</tspan></text>
<text x="1373.7" y="1472.5" text-anchor="middle" font-size="21.4">1.13<tspan dx="-1.9"> (0.18,</tspan><tspan dx="-0.8"> 9.58)</tspan></text>
<text x="27.3" y="1521.5">IL-1b</text>
<text x="231.5" y="1521.5" text-anchor="middle" font-size="21.4">7<tspan dx="-1.2"> (63.6)</tspan></text>
<text x="396.0" y="1521.5" text-anchor="middle" font-size="21.4">14<tspan dx="-1.2"> (66.7)</tspan></text>
<text x="557.2" y="1521.5" text-anchor="middle" font-size="21.4">1.14<tspan dx="-1.9"> (0.23,</tspan><tspan dx="-0.8"> 5.25)</tspan></text>
<text x="1373.7" y="1521.5" text-anchor="middle" font-size="21.4">1.21<tspan dx="-1.9"> (0.24,</tspan><tspan dx="-0.8"> 5.83)</tspan></text>
<text x="27.3" y="1570.4">IL-5</text>
<text x="233.5" y="1570.4" text-anchor="middle" font-size="21.4">16<tspan dx="-1.2"> (76.2)</tspan></text>
<text x="394.0" y="1570.4" text-anchor="middle" font-size="21.4">5<tspan dx="-1.2"> (45.5)</tspan></text>
<text x="559.5" y="1570.4" text-anchor="middle" font-size="21.4">0.26<tspan dx="-1.9"> (0.05,</tspan><tspan dx="-0.8"> 1.2)</tspan></text>
<text x="1373.7" y="1570.4" text-anchor="middle" font-size="21.4">0.26<tspan dx="-1.9"> (0.05,</tspan><tspan dx="-0.8"> 1.22)</tspan></text>
<text x="27.3" y="1619.4">IL-7</text>
<text x="231.5" y="1619.4" text-anchor="middle" font-size="21.4">9<tspan dx="-1.2"> (81.8)</tspan></text>
<text x="396.0" y="1619.4" text-anchor="middle" font-size="21.4">12<tspan dx="-1.2"> (57.1)</tspan></text>
<text x="559.5" y="1619.4" text-anchor="middle" font-size="21.4">0.3<tspan dx="-1.9"> (0.04,</tspan><tspan dx="-0.8"> 1.52)</tspan></text>
<text x="1376.0" y="1619.4" text-anchor="middle" font-size="21.4">0.29<tspan dx="-1.9"> (0.04,</tspan><tspan dx="-0.8"> 1.5)</tspan></text>
<text x="27.3" y="1668.3">IL-13</text>
<text x="231.5" y="1668.3" text-anchor="middle" font-size="21.4">7<tspan dx="-1.2"> (63.6)</tspan></text>
<text x="396.0" y="1668.3" text-anchor="middle" font-size="21.4">14<tspan dx="-1.2"> (66.7)</tspan></text>
<text x="557.2" y="1668.3" text-anchor="middle" font-size="21.4">1.14<tspan dx="-1.9"> (0.23,</tspan><tspan dx="-0.8"> 5.25)</tspan></text>
<text x="1376.0" y="1668.3" text-anchor="middle" font-size="21.4">1.15<tspan dx="-1.9"> (0.23,</tspan><tspan dx="-0.8"> 5.3)</tspan></text>
<text x="27.3" y="1717.2">IL-17/IL-17A</text>
<text x="233.5" y="1717.2" text-anchor="middle" font-size="21.4">12<tspan dx="-1.2"> (63.2)</tspan></text>
<text x="394.0" y="1717.2" text-anchor="middle" font-size="21.4">9<tspan dx="-1.2"> (69.2)</tspan></text>
<text x="559.5" y="1717.2" text-anchor="middle" font-size="21.4">1.31<tspan dx="-1.9"> (0.3,</tspan><tspan dx="-0.8"> 6.32)</tspan></text>
<text x="1376.0" y="1717.2" text-anchor="middle" font-size="21.4">1.3<tspan dx="-1.9"> (0.29,</tspan><tspan dx="-0.8"> 6.26)</tspan></text>
<text x="27.3" y="1766.2">IL-36b</text>
<text x="231.5" y="1766.2" text-anchor="middle" font-size="21.4">8<tspan dx="-1.2"> (66.7)</tspan></text>
<text x="396.0" y="1766.2" text-anchor="middle" font-size="21.4">13<tspan dx="-1.2"> (65.0)</tspan></text>
<text x="557.2" y="1766.2" text-anchor="middle" font-size="21.4">0.93<tspan dx="-1.9"> (0.19,</tspan><tspan dx="-0.8"> 4.17)</tspan></text>
<text x="1373.7" y="1766.2" text-anchor="middle" font-size="21.4">0.92<tspan dx="-1.9"> (0.19,</tspan><tspan dx="-0.8"> 4.16)</tspan></text>
<text x="27.3" y="1815.2">IL-33</text>
<text x="231.5" y="1815.2" text-anchor="middle" font-size="21.4">7<tspan dx="-1.2"> (58.3)</tspan></text>
<text x="396.0" y="1815.2" text-anchor="middle" font-size="21.4">14<tspan dx="-1.2"> (70.0)</tspan></text>
<text x="557.2" y="1815.2" text-anchor="middle" font-size="21.4">1.67<tspan dx="-1.9"> (0.37,</tspan><tspan dx="-0.8"> 7.61)</tspan></text>
<text x="1371.5" y="1815.2" text-anchor="middle" font-size="21.4">1.95<tspan dx="-1.9"> (0.39,</tspan><tspan dx="-0.8"> 10.36)</tspan></text>
<text x="27.3" y="1864.1">IL-2</text>
<text x="233.5" y="1864.1" text-anchor="middle" font-size="21.4">19<tspan dx="-1.2"> (70.4)</tspan></text>
<text x="394.0" y="1864.1" text-anchor="middle" font-size="21.4">2<tspan dx="-1.2"> (40.0)</tspan></text>
<text x="562.9" y="1864.1" text-anchor="middle" font-size="21.4">0.28<tspan dx="-1.9"> (0.03,</tspan><tspan dx="-0.8"> 2)</tspan></text>
<text x="1373.7" y="1864.1" text-anchor="middle" font-size="21.4">0.22<tspan dx="-1.9"> (0.02,</tspan><tspan dx="-0.8"> 1.76)</tspan></text>
<text x="27.3" y="1913.1">IL?6</text>
<text x="231.5" y="1913.1" text-anchor="middle" font-size="21.4">9<tspan dx="-1.2"> (81.8)</tspan></text>
<text x="396.0" y="1913.1" text-anchor="middle" font-size="21.4">12<tspan dx="-1.2"> (57.1)</tspan></text>
<text x="559.5" y="1913.1" text-anchor="middle" font-size="21.4">0.3<tspan dx="-1.9"> (0.04,</tspan><tspan dx="-0.8"> 1.52)</tspan></text>
<text x="1376.0" y="1913.1" text-anchor="middle" font-size="21.4">0.3<tspan dx="-1.9"> (0.04,</tspan><tspan dx="-0.8"> 1.53)</tspan></text>
<text x="27.3" y="1962.0">IL-8/CXCL8</text>
<text x="231.5" y="1962.0" text-anchor="middle" font-size="21.4">9<tspan dx="-1.2"> (64.3)</tspan></text>
<text x="396.0" y="1962.0" text-anchor="middle" font-size="21.4">12<tspan dx="-1.2"> (66.7)</tspan></text>
<text x="557.5" y="1962.0" text-anchor="middle" font-size="21.4">1.11<tspan dx="-1.9"> (0.25,</tspan><tspan dx="-0.8"> 4.89)</tspan></text>
<text x="1373.7" y="1962.0" text-anchor="middle" font-size="21.4">1.14<tspan dx="-1.9"> (0.25,</tspan><tspan dx="-0.8"> 5.08)</tspan></text>
<text x="27.3" y="2011.0">IL-15</text>
<text x="231.5" y="2011.0" text-anchor="middle" font-size="21.4">6<tspan dx="-1.2"> (54.5)</tspan></text>
<text x="396.0" y="2011.0" text-anchor="middle" font-size="21.4">15<tspan dx="-1.2"> (71.4)</tspan></text>
<text x="557.2" y="2011.0" text-anchor="middle" font-size="21.4">2.08<tspan dx="-1.9"> (0.45,</tspan><tspan dx="-0.8"> 9.84)</tspan></text>
<text x="1371.5" y="2011.0" text-anchor="middle" font-size="21.4">2.15<tspan dx="-1.9"> (0.46,</tspan><tspan dx="-0.8"> 10.39)</tspan></text>
<text x="27.3" y="2059.9">IL-23</text>
<text x="233.5" y="2059.9" text-anchor="middle" font-size="21.4">11<tspan dx="-1.2"> (57.9)</tspan></text>
<text x="396.0" y="2059.9" text-anchor="middle" font-size="21.4">10<tspan dx="-1.2"> (76.9)</tspan></text>
<text x="555.0" y="2059.9" text-anchor="middle" font-size="21.4">2.42<tspan dx="-1.9"> (0.53,</tspan><tspan dx="-0.8"> 13.51)</tspan></text>
<text x="1371.5" y="2059.9" text-anchor="middle" font-size="21.4">2.57<tspan dx="-1.9"> (0.55,</tspan><tspan dx="-0.8"> 14.82)</tspan></text>
<text x="27.3" y="2108.9">T<tspan dx="-0.6">N</tspan><tspan dx="-5.4">F</tspan><tspan dx="-0.9">a</tspan></text>
<text x="231.5" y="2108.9" text-anchor="middle" font-size="21.4">6<tspan dx="-1.2"> (54.5)</tspan></text>
<text x="396.0" y="2108.9" text-anchor="middle" font-size="21.4">15<tspan dx="-1.2"> (71.4)</tspan></text>
<text x="557.2" y="2108.9" text-anchor="middle" font-size="21.4">2.08<tspan dx="-1.9"> (0.45,</tspan><tspan dx="-0.8"> 9.84)</tspan></text>
<text x="1379.4" y="2108.9" text-anchor="middle" font-size="21.4">2.1<tspan dx="-1.9"> (0.45,</tspan><tspan dx="-0.8"> 10)</tspan></text>
<line x1="947.9" y1="1240.0" x2="947.9" y2="2121.7" stroke="#b9b9b9" stroke-width="1.8"/>
<line x1="640.2" y1="1265.7" x2="990.9" y2="1265.7" stroke="#b9b9b9" stroke-width="1.8"/>
<polyline points="660.7,1260.4 640.2,1265.7 660.7,1271.0" fill="none" stroke="#b9b9b9" stroke-width="1.8"/>
<line x1="990.9" y1="1259.9" x2="990.9" y2="1271.5" stroke="#b9b9b9" stroke-width="1.8"/>
<rect x="817.24" y="1258.95" width="14" height="13.5" fill="#000"/>
<line x1="718.7" y1="1314.7" x2="1055.5" y2="1314.7" stroke="#b9b9b9" stroke-width="1.8"/>
<line x1="718.7" y1="1308.9" x2="718.7" y2="1320.5" stroke="#b9b9b9" stroke-width="1.8"/>
<line x1="1055.5" y1="1308.9" x2="1055.5" y2="1320.5" stroke="#b9b9b9" stroke-width="1.8"/>
<rect x="890.13" y="1307.90" width="14" height="13.5" fill="#000"/>
<line x1="796.9" y1="1363.6" x2="1118.2" y2="1363.6" stroke="#b9b9b9" stroke-width="1.8"/>
<line x1="796.9" y1="1357.8" x2="796.9" y2="1369.4" stroke="#b9b9b9" stroke-width="1.8"/>
<line x1="1118.2" y1="1357.8" x2="1118.2" y2="1369.4" stroke="#b9b9b9" stroke-width="1.8"/>
<rect x="954.36" y="1356.85" width="14" height="13.5" fill="#000"/>
<line x1="865.9" y1="1412.6" x2="1173.1" y2="1412.6" stroke="#b9b9b9" stroke-width="1.8"/>
<line x1="865.9" y1="1406.8" x2="865.9" y2="1418.4" stroke="#b9b9b9" stroke-width="1.8"/>
<line x1="1173.1" y1="1406.8" x2="1173.1" y2="1418.4" stroke="#b9b9b9" stroke-width="1.8"/>
<rect x="1009.49" y="1405.80" width="14" height="13.5" fill="#000"/>
<line x1="765.9" y1="1461.5" x2="1170.2" y2="1461.5" stroke="#b9b9b9" stroke-width="1.8"/>
<line x1="765.9" y1="1455.7" x2="765.9" y2="1467.3" stroke="#b9b9b9" stroke-width="1.8"/>
<line x1="1170.2" y1="1455.7" x2="1170.2" y2="1467.3" stroke="#b9b9b9" stroke-width="1.8"/>
<rect x="946.88" y="1454.75" width="14" height="13.5" fill="#000"/>
<line x1="796.9" y1="1510.5" x2="1118.2" y2="1510.5" stroke="#b9b9b9" stroke-width="1.8"/>
<line x1="796.9" y1="1504.7" x2="796.9" y2="1516.2" stroke="#b9b9b9" stroke-width="1.8"/>
<line x1="1118.2" y1="1504.7" x2="1118.2" y2="1516.2" stroke="#b9b9b9" stroke-width="1.8"/>
<rect x="954.36" y="1503.70" width="14" height="13.5" fill="#000"/>
<line x1="642.0" y1="1559.4" x2="966.6" y2="1559.4" stroke="#b9b9b9" stroke-width="1.8"/>
<line x1="642.0" y1="1553.6" x2="642.0" y2="1565.2" stroke="#b9b9b9" stroke-width="1.8"/>
<line x1="966.6" y1="1553.6" x2="966.6" y2="1565.2" stroke="#b9b9b9" stroke-width="1.8"/>
<rect x="802.54" y="1552.65" width="14" height="13.5" fill="#000"/>
<line x1="640.2" y1="1608.4" x2="990.9" y2="1608.4" stroke="#b9b9b9" stroke-width="1.8"/>
<polyline points="660.7,1603.1 640.2,1608.4 660.7,1613.7" fill="none" stroke="#b9b9b9" stroke-width="1.8"/>
<line x1="990.9" y1="1602.6" x2="990.9" y2="1614.2" stroke="#b9b9b9" stroke-width="1.8"/>
<rect x="817.24" y="1601.60" width="14" height="13.5" fill="#000"/>
<line x1="796.9" y1="1657.3" x2="1118.2" y2="1657.3" stroke="#b9b9b9" stroke-width="1.8"/>
<line x1="796.9" y1="1651.5" x2="796.9" y2="1663.1" stroke="#b9b9b9" stroke-width="1.8"/>
<line x1="1118.2" y1="1651.5" x2="1118.2" y2="1663.1" stroke="#b9b9b9" stroke-width="1.8"/>
<rect x="954.36" y="1650.55" width="14" height="13.5" fill="#000"/>
<line x1="824.2" y1="1706.2" x2="1137.3" y2="1706.2" stroke="#b9b9b9" stroke-width="1.8"/>
<line x1="824.2" y1="1700.5" x2="824.2" y2="1712.0" stroke="#b9b9b9" stroke-width="1.8"/>
<line x1="1137.3" y1="1700.5" x2="1137.3" y2="1712.0" stroke="#b9b9b9" stroke-width="1.8"/>
<rect x="968.63" y="1699.50" width="14" height="13.5" fill="#000"/>
<line x1="777.3" y1="1755.2" x2="1094.6" y2="1755.2" stroke="#b9b9b9" stroke-width="1.8"/>
<line x1="777.3" y1="1749.4" x2="777.3" y2="1761.0" stroke="#b9b9b9" stroke-width="1.8"/>
<line x1="1094.6" y1="1749.4" x2="1094.6" y2="1761.0" stroke="#b9b9b9" stroke-width="1.8"/>
<rect x="933.45" y="1748.45" width="14" height="13.5" fill="#000"/>
<line x1="845.8" y1="1804.2" x2="1156.3" y2="1804.2" stroke="#b9b9b9" stroke-width="1.8"/>
<line x1="845.8" y1="1798.4" x2="845.8" y2="1810.0" stroke="#b9b9b9" stroke-width="1.8"/>
<line x1="1156.3" y1="1798.4" x2="1156.3" y2="1810.0" stroke="#b9b9b9" stroke-width="1.8"/>
<rect x="993.57" y="1797.40" width="14" height="13.5" fill="#000"/>
<line x1="640.2" y1="1853.1" x2="1019.1" y2="1853.1" stroke="#b9b9b9" stroke-width="1.8"/>
<polyline points="660.7,1847.8 640.2,1853.1 660.7,1858.4" fill="none" stroke="#b9b9b9" stroke-width="1.8"/>
<line x1="1019.1" y1="1847.3" x2="1019.1" y2="1858.9" stroke="#b9b9b9" stroke-width="1.8"/>
<rect x="810.15" y="1846.35" width="14" height="13.5" fill="#000"/>
<line x1="640.2" y1="1902.1" x2="990.9" y2="1902.1" stroke="#b9b9b9" stroke-width="1.8"/>
<polyline points="660.7,1896.8 640.2,1902.1 660.7,1907.4" fill="none" stroke="#b9b9b9" stroke-width="1.8"/>
<line x1="990.9" y1="1896.3" x2="990.9" y2="1907.9" stroke="#b9b9b9" stroke-width="1.8"/>
<rect x="817.24" y="1895.30" width="14" height="13.5" fill="#000"/>
<line x1="805.5" y1="1951.0" x2="1110.9" y2="1951.0" stroke="#b9b9b9" stroke-width="1.8"/>
<line x1="805.5" y1="1945.2" x2="805.5" y2="1956.8" stroke="#b9b9b9" stroke-width="1.8"/>
<line x1="1110.9" y1="1945.2" x2="1110.9" y2="1956.8" stroke="#b9b9b9" stroke-width="1.8"/>
<rect x="951.62" y="1944.25" width="14" height="13.5" fill="#000"/>
<line x1="865.9" y1="2000.0" x2="1182.7" y2="2000.0" stroke="#b9b9b9" stroke-width="1.8"/>
<line x1="865.9" y1="1994.2" x2="865.9" y2="2005.8" stroke="#b9b9b9" stroke-width="1.8"/>
<line x1="1182.7" y1="1994.2" x2="1182.7" y2="2005.8" stroke="#b9b9b9" stroke-width="1.8"/>
<rect x="1016.12" y="1993.20" width="14" height="13.5" fill="#000"/>
<line x1="882.7" y1="2048.9" x2="1215.3" y2="2048.9" stroke="#b9b9b9" stroke-width="1.8"/>
<line x1="882.7" y1="2043.1" x2="882.7" y2="2054.7" stroke="#b9b9b9" stroke-width="1.8"/>
<line x1="1215.3" y1="2043.1" x2="1215.3" y2="2054.7" stroke="#b9b9b9" stroke-width="1.8"/>
<rect x="1031.67" y="2042.15" width="14" height="13.5" fill="#000"/>
<line x1="865.9" y1="2097.9" x2="1182.7" y2="2097.9" stroke="#b9b9b9" stroke-width="1.8"/>
<line x1="865.9" y1="2092.1" x2="865.9" y2="2103.7" stroke="#b9b9b9" stroke-width="1.8"/>
<line x1="1182.7" y1="2092.1" x2="1182.7" y2="2103.7" stroke="#b9b9b9" stroke-width="1.8"/>
<rect x="1016.12" y="2091.10" width="14" height="13.5" fill="#000"/>
<line x1="640.2" y1="2121.7" x2="1255.5" y2="2121.7" stroke="#000" stroke-width="2"/>
<line x1="640.2" y1="2120.7" x2="640.2" y2="2132.5" stroke="#000" stroke-width="2"/>
<text x="650.7" y="2163.9" text-anchor="middle" font-size="21.8">0.05</text>
<line x1="711.4" y1="2120.7" x2="711.4" y2="2132.5" stroke="#000" stroke-width="2"/>
<text x="721.9" y="2163.9" text-anchor="middle" font-size="21.8">0.10</text>
<line x1="805.5" y1="2120.7" x2="805.5" y2="2132.5" stroke="#000" stroke-width="2"/>
<text x="816.0" y="2163.9" text-anchor="middle" font-size="21.8">0.25</text>
<line x1="876.7" y1="2120.7" x2="876.7" y2="2132.5" stroke="#000" stroke-width="2"/>
<text x="887.2" y="2163.9" text-anchor="middle" font-size="21.8">0.50</text>
<line x1="947.9" y1="2120.7" x2="947.9" y2="2132.5" stroke="#000" stroke-width="2"/>
<text x="958.4" y="2163.9" text-anchor="middle" font-size="21.8">1.00</text>
<line x1="1019.1" y1="2120.7" x2="1019.1" y2="2132.5" stroke="#000" stroke-width="2"/>
<text x="1029.6" y="2163.9" text-anchor="middle" font-size="21.8">2.00</text>
<line x1="1113.2" y1="2120.7" x2="1113.2" y2="2132.5" stroke="#000" stroke-width="2"/>
<text x="1123.7" y="2163.9" text-anchor="middle" font-size="21.8">5.00</text>
<line x1="1184.4" y1="2120.7" x2="1184.4" y2="2132.5" stroke="#000" stroke-width="2"/>
<text x="1192.9" y="2163.9" text-anchor="middle" font-size="21.8">10.00</text>
<line x1="1255.6" y1="2120.7" x2="1255.6" y2="2132.5" stroke="#000" stroke-width="2"/>
<text x="1264.1" y="2163.9" text-anchor="middle" font-size="21.8">20.00</text>
<path d="M693.1,2181.0 L702.1,2172.4 L702.1,2177.1 L949.4,2177.1 L949.4,2184.9 L702.1,2184.9 L702.1,2189.6 Z" fill="#000"/>
<path d="M1207.2,2181.0 L1198.2,2172.4 L1198.2,2177.1 L956.0,2177.1 L956.0,2184.9 L1198.2,2184.9 L1198.2,2189.6 Z" fill="#000"/>
<text x="917.0" y="2222.7" text-anchor="end" font-family="Carlito, Liberation Sans, sans-serif" font-size="22.1" textLength="170.4" lengthAdjust="spacingAndGlyphs">Lowest tertile does</text>
<text x="917.0" y="2247.5" text-anchor="end" font-family="Carlito, Liberation Sans, sans-serif" font-size="22.1" textLength="55.0" lengthAdjust="spacingAndGlyphs">better</text>
<text x="979.5" y="2222.7" font-family="Carlito, Liberation Sans, sans-serif" font-size="22.1" textLength="180.0" lengthAdjust="spacingAndGlyphs">Highest 2 tertiles do</text>
<text x="979.5" y="2247.5" font-family="Carlito, Liberation Sans, sans-serif" font-size="22.1" textLength="55.0" lengthAdjust="spacingAndGlyphs">better</text>
<line x1="1709.3" y1="1240.0" x2="1709.3" y2="2121.8" stroke="#b9b9b9" stroke-width="1.8"/>
<line x1="1459.6" y1="1265.7" x2="1740.8" y2="1265.7" stroke="#b9b9b9" stroke-width="1.8"/>
<polyline points="1466.1,1260.4 1459.6,1265.7 1466.1,1271.0" fill="none" stroke="#b9b9b9" stroke-width="1.8"/>
<line x1="1740.8" y1="1259.9" x2="1740.8" y2="1271.5" stroke="#b9b9b9" stroke-width="1.8"/>
<rect x="1595.71" y="1258.95" width="15" height="13.5" fill="#000"/>
<line x1="1525.3" y1="1314.7" x2="1800.0" y2="1314.7" stroke="#b9b9b9" stroke-width="1.8"/>
<line x1="1525.3" y1="1308.9" x2="1525.3" y2="1320.5" stroke="#b9b9b9" stroke-width="1.8"/>
<line x1="1800.0" y1="1308.9" x2="1800.0" y2="1320.5" stroke="#b9b9b9" stroke-width="1.8"/>
<rect x="1661.96" y="1307.90" width="15" height="13.5" fill="#000"/>
<line x1="1590.4" y1="1363.6" x2="1858.3" y2="1363.6" stroke="#b9b9b9" stroke-width="1.8"/>
<line x1="1590.4" y1="1357.8" x2="1590.4" y2="1369.4" stroke="#b9b9b9" stroke-width="1.8"/>
<line x1="1858.3" y1="1357.8" x2="1858.3" y2="1369.4" stroke="#b9b9b9" stroke-width="1.8"/>
<rect x="1719.05" y="1356.85" width="15" height="13.5" fill="#000"/>
<line x1="1645.2" y1="1412.6" x2="1901.0" y2="1412.6" stroke="#b9b9b9" stroke-width="1.8"/>
<line x1="1645.2" y1="1406.8" x2="1645.2" y2="1418.4" stroke="#b9b9b9" stroke-width="1.8"/>
<line x1="1901.0" y1="1406.8" x2="1901.0" y2="1418.4" stroke="#b9b9b9" stroke-width="1.8"/>
<rect x="1762.84" y="1405.80" width="15" height="13.5" fill="#000"/>
<line x1="1564.9" y1="1461.5" x2="1897.6" y2="1461.5" stroke="#b9b9b9" stroke-width="1.8"/>
<line x1="1564.9" y1="1455.7" x2="1564.9" y2="1467.3" stroke="#b9b9b9" stroke-width="1.8"/>
<line x1="1897.6" y1="1455.7" x2="1897.6" y2="1467.3" stroke="#b9b9b9" stroke-width="1.8"/>
<rect x="1711.99" y="1454.75" width="15" height="13.5" fill="#000"/>
<line x1="1590.4" y1="1510.5" x2="1856.2" y2="1510.5" stroke="#b9b9b9" stroke-width="1.8"/>
<line x1="1590.4" y1="1504.7" x2="1590.4" y2="1516.2" stroke="#b9b9b9" stroke-width="1.8"/>
<line x1="1856.2" y1="1504.7" x2="1856.2" y2="1516.2" stroke="#b9b9b9" stroke-width="1.8"/>
<rect x="1717.69" y="1503.70" width="15" height="13.5" fill="#000"/>
<line x1="1462.9" y1="1559.4" x2="1725.9" y2="1559.4" stroke="#b9b9b9" stroke-width="1.8"/>
<line x1="1462.9" y1="1553.6" x2="1462.9" y2="1565.2" stroke="#b9b9b9" stroke-width="1.8"/>
<line x1="1725.9" y1="1553.6" x2="1725.9" y2="1565.2" stroke="#b9b9b9" stroke-width="1.8"/>
<rect x="1589.53" y="1552.65" width="15" height="13.5" fill="#000"/>
<line x1="1459.6" y1="1608.4" x2="1743.1" y2="1608.4" stroke="#b9b9b9" stroke-width="1.8"/>
<polyline points="1466.1,1603.1 1459.6,1608.4 1466.1,1613.7" fill="none" stroke="#b9b9b9" stroke-width="1.8"/>
<line x1="1743.1" y1="1602.6" x2="1743.1" y2="1614.2" stroke="#b9b9b9" stroke-width="1.8"/>
<rect x="1598.63" y="1601.60" width="15" height="13.5" fill="#000"/>
<line x1="1588.9" y1="1657.3" x2="1848.3" y2="1657.3" stroke="#b9b9b9" stroke-width="1.8"/>
<line x1="1588.9" y1="1651.5" x2="1588.9" y2="1663.1" stroke="#b9b9b9" stroke-width="1.8"/>
<line x1="1848.3" y1="1651.5" x2="1848.3" y2="1663.1" stroke="#b9b9b9" stroke-width="1.8"/>
<rect x="1713.45" y="1650.55" width="15" height="13.5" fill="#000"/>
<line x1="1606.1" y1="1706.2" x2="1862.2" y2="1706.2" stroke="#b9b9b9" stroke-width="1.8"/>
<line x1="1606.1" y1="1700.5" x2="1606.1" y2="1712.0" stroke="#b9b9b9" stroke-width="1.8"/>
<line x1="1862.2" y1="1700.5" x2="1862.2" y2="1712.0" stroke="#b9b9b9" stroke-width="1.8"/>
<rect x="1723.67" y="1699.50" width="15" height="13.5" fill="#000"/>
<line x1="1570.9" y1="1755.2" x2="1828.1" y2="1755.2" stroke="#b9b9b9" stroke-width="1.8"/>
<line x1="1570.9" y1="1749.4" x2="1570.9" y2="1761.0" stroke="#b9b9b9" stroke-width="1.8"/>
<line x1="1828.1" y1="1749.4" x2="1828.1" y2="1761.0" stroke="#b9b9b9" stroke-width="1.8"/>
<rect x="1694.85" y="1748.45" width="15" height="13.5" fill="#000"/>
<line x1="1630.8" y1="1804.2" x2="1904.1" y2="1804.2" stroke="#b9b9b9" stroke-width="1.8"/>
<line x1="1630.8" y1="1798.4" x2="1630.8" y2="1810.0" stroke="#b9b9b9" stroke-width="1.8"/>
<line x1="1904.1" y1="1798.4" x2="1904.1" y2="1810.0" stroke="#b9b9b9" stroke-width="1.8"/>
<rect x="1757.46" y="1797.40" width="15" height="13.5" fill="#000"/>
<line x1="1459.6" y1="1853.1" x2="1756.4" y2="1853.1" stroke="#b9b9b9" stroke-width="1.8"/>
<polyline points="1466.1,1847.8 1459.6,1853.1 1466.1,1858.4" fill="none" stroke="#b9b9b9" stroke-width="1.8"/>
<line x1="1756.4" y1="1847.3" x2="1756.4" y2="1858.9" stroke="#b9b9b9" stroke-width="1.8"/>
<rect x="1575.61" y="1846.35" width="15" height="13.5" fill="#000"/>
<line x1="1459.6" y1="1902.1" x2="1744.7" y2="1902.1" stroke="#b9b9b9" stroke-width="1.8"/>
<polyline points="1466.1,1896.8 1459.6,1902.1 1466.1,1907.4" fill="none" stroke="#b9b9b9" stroke-width="1.8"/>
<line x1="1744.7" y1="1896.3" x2="1744.7" y2="1907.9" stroke="#b9b9b9" stroke-width="1.8"/>
<rect x="1601.46" y="1895.30" width="15" height="13.5" fill="#000"/>
<line x1="1593.8" y1="1951.0" x2="1844.8" y2="1951.0" stroke="#b9b9b9" stroke-width="1.8"/>
<line x1="1593.8" y1="1945.2" x2="1593.8" y2="1956.8" stroke="#b9b9b9" stroke-width="1.8"/>
<line x1="1844.8" y1="1945.2" x2="1844.8" y2="1956.8" stroke="#b9b9b9" stroke-width="1.8"/>
<rect x="1712.72" y="1944.25" width="15" height="13.5" fill="#000"/>
<line x1="1644.6" y1="2000.0" x2="1904.4" y2="2000.0" stroke="#b9b9b9" stroke-width="1.8"/>
<line x1="1644.6" y1="1994.2" x2="1644.6" y2="2005.8" stroke="#b9b9b9" stroke-width="1.8"/>
<line x1="1904.4" y1="1994.2" x2="1904.4" y2="2005.8" stroke="#b9b9b9" stroke-width="1.8"/>
<rect x="1765.59" y="1993.20" width="15" height="13.5" fill="#000"/>
<line x1="1659.5" y1="2048.9" x2="1934.0" y2="2048.9" stroke="#b9b9b9" stroke-width="1.8"/>
<line x1="1659.5" y1="2043.1" x2="1659.5" y2="2054.7" stroke="#b9b9b9" stroke-width="1.8"/>
<line x1="1934.0" y1="2043.1" x2="1934.0" y2="2054.7" stroke="#b9b9b9" stroke-width="1.8"/>
<rect x="1780.47" y="2042.15" width="15" height="13.5" fill="#000"/>
<line x1="1642.8" y1="2097.9" x2="1901.2" y2="2097.9" stroke="#b9b9b9" stroke-width="1.8"/>
<line x1="1642.8" y1="2092.1" x2="1642.8" y2="2103.7" stroke="#b9b9b9" stroke-width="1.8"/>
<line x1="1901.2" y1="2092.1" x2="1901.2" y2="2103.7" stroke="#b9b9b9" stroke-width="1.8"/>
<rect x="1763.63" y="2091.10" width="15" height="13.5" fill="#000"/>
<line x1="1459.6" y1="2121.8" x2="1958.8" y2="2121.8" stroke="#000" stroke-width="2"/>
<line x1="1459.6" y1="2120.8" x2="1459.6" y2="2132.6" stroke="#000" stroke-width="2"/>
<text x="1470.1" y="2164.0" text-anchor="middle" font-size="21.8">0.05</text>
<line x1="1517.4" y1="2120.8" x2="1517.4" y2="2132.6" stroke="#000" stroke-width="2"/>
<text x="1527.9" y="2164.0" text-anchor="middle" font-size="21.8">0.10</text>
<line x1="1593.8" y1="2120.8" x2="1593.8" y2="2132.6" stroke="#000" stroke-width="2"/>
<text x="1604.3" y="2164.0" text-anchor="middle" font-size="21.8">0.25</text>
<line x1="1651.5" y1="2120.8" x2="1651.5" y2="2132.6" stroke="#000" stroke-width="2"/>
<text x="1662.0" y="2164.0" text-anchor="middle" font-size="21.8">0.50</text>
<line x1="1709.3" y1="2120.8" x2="1709.3" y2="2132.6" stroke="#000" stroke-width="2"/>
<text x="1719.8" y="2164.0" text-anchor="middle" font-size="21.8">1.00</text>
<line x1="1767.1" y1="2120.8" x2="1767.1" y2="2132.6" stroke="#000" stroke-width="2"/>
<text x="1777.6" y="2164.0" text-anchor="middle" font-size="21.8">2.00</text>
<line x1="1843.4" y1="2120.8" x2="1843.4" y2="2132.6" stroke="#000" stroke-width="2"/>
<text x="1853.9" y="2164.0" text-anchor="middle" font-size="21.8">5.00</text>
<line x1="1901.2" y1="2120.8" x2="1901.2" y2="2132.6" stroke="#000" stroke-width="2"/>
<text x="1909.7" y="2164.0" text-anchor="middle" font-size="21.8">10.00</text>
<line x1="1959.0" y1="2120.8" x2="1959.0" y2="2132.6" stroke="#000" stroke-width="2"/>
<text x="1967.5" y="2164.0" text-anchor="middle" font-size="21.8">20.00</text>
<path d="M1454.9,2179.2 L1463.9,2170.6 L1463.9,2175.3 L1712.2,2175.3 L1712.2,2183.1 L1463.9,2183.1 L1463.9,2187.8 Z" fill="#000"/>
<path d="M1969.9,2179.2 L1960.9,2170.6 L1960.9,2175.3 L1719.5,2175.3 L1719.5,2183.1 L1960.9,2183.1 L1960.9,2187.8 Z" fill="#000"/>
<text x="1679.3" y="2221.0" text-anchor="end" font-family="Carlito, Liberation Sans, sans-serif" font-size="22.1" textLength="170.4" lengthAdjust="spacingAndGlyphs">Lowest tertile does</text>
<text x="1679.3" y="2245.8" text-anchor="end" font-family="Carlito, Liberation Sans, sans-serif" font-size="22.1" textLength="55.0" lengthAdjust="spacingAndGlyphs">better</text>
<text x="1741.5" y="2221.0" font-family="Carlito, Liberation Sans, sans-serif" font-size="22.1" textLength="180.0" lengthAdjust="spacingAndGlyphs">Highest 2 tertiles do</text>
<text x="1741.5" y="2245.8" font-family="Carlito, Liberation Sans, sans-serif" font-size="22.1" textLength="55.0" lengthAdjust="spacingAndGlyphs">better</text>
</svg>
</body></html>
